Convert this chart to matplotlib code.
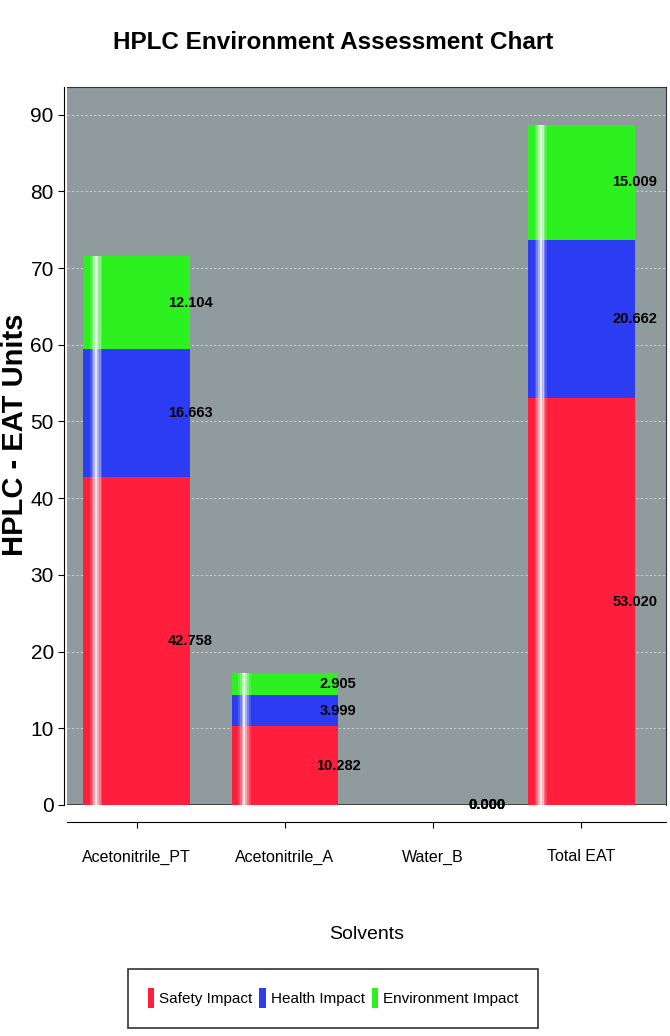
import matplotlib
matplotlib.use("Agg")
import matplotlib.pyplot as plt
import numpy as np

# dane
solvents = ["Acetonitrile_PT", "Acetonitrile_A", "Water_B", "Total EAT"]
safety = [42.758, 10.282, 0.000, 53.020]
health = [16.663, 3.999, 0.000, 20.662]
environment = [12.104, 2.905, 0.000, 15.009]
series_names = ["Safety Impact", "Health Impact", "Environment Impact"]
colors = ["#ff1f3c", "#2b3cf2", "#2cf020"]
yticks = [0, 10, 20, 30, 40, 50, 60, 70, 80, 90]

plt.rcParams["font.family"] = ["Liberation Sans", "DejaVu Sans"]

fig = plt.figure(figsize=(6.7, 10.36), dpi=100)
ax = fig.add_axes([0.1, 0.223, 0.894, 0.693])
ax.set_facecolor("#8f9b9d")

x = np.arange(len(solvents))
w = 0.72
bottom = np.zeros(len(solvents))
for vals, name, c in zip([safety, health, environment], series_names, colors):
    vals = np.array(vals)
    ax.bar(x, vals, w, bottom=bottom, color=c, label=name, zorder=3)
    for xi, v, b in zip(x, vals, bottom):
        ax.text(xi + w / 2, b + v / 2, "%.3f" % v, ha="center", va="center",
                fontsize=10.5, fontweight="bold", color="black", zorder=5)
    bottom = bottom + vals

# połysk na słupkach
totals = bottom
for off, a in [(0.05, 0.15), (0.062, 0.35), (0.074, 0.6), (0.086, 0.9),
               (0.098, 0.6), (0.11, 0.35), (0.122, 0.15)]:
    ax.bar(x - w / 2 + off, totals, 0.013, color="white", alpha=a, zorder=4, linewidth=0)

ax.set_xlim(-0.47, 3.57)
ax.set_ylim(0, 93.6)
ax.set_yticks(yticks)
ax.yaxis.grid(True, color="white", linestyle=(0, (2, 2)), linewidth=0.8, alpha=0.5, zorder=1)
ax.axhline(0, color="#333333", linewidth=1.2, zorder=2)

for s in ["top", "right"]:
    ax.spines[s].set_color("#333333")
ax.spines["bottom"].set_position(("outward", 12))
ax.spines["left"].set_position(("outward", 2))

ax.set_xticks(x)
ax.set_xticklabels(solvents, fontsize=11.5)
ax.tick_params(axis="x", length=4, pad=16)
ax.tick_params(axis="y", length=4, labelsize=15)

ax.set_xlabel("Solvents", fontsize=14, labelpad=44)
ax.set_ylabel("HPLC - EAT Units", fontsize=21, fontweight="bold")
ax.yaxis.set_label_coords(-0.064, 0.515)

fig.suptitle("HPLC Environment Assessment Chart", x=0.497, y=0.97,
             fontsize=17.5, fontweight="bold")

handles, labels = ax.get_legend_handles_labels()
leg = fig.legend(handles[:3], labels[:3], loc="center", bbox_to_anchor=(0.497, 0.0365),
                 ncol=3, prop={"size": 11}, frameon=True,
                 fancybox=False, edgecolor="black", handlelength=0.45, handleheight=1.6,
                 handletextpad=0.3, columnspacing=0.45, borderpad=1.3)
leg.get_frame().set_linewidth(1.2)

fig.savefig("out.png", dpi=100)
